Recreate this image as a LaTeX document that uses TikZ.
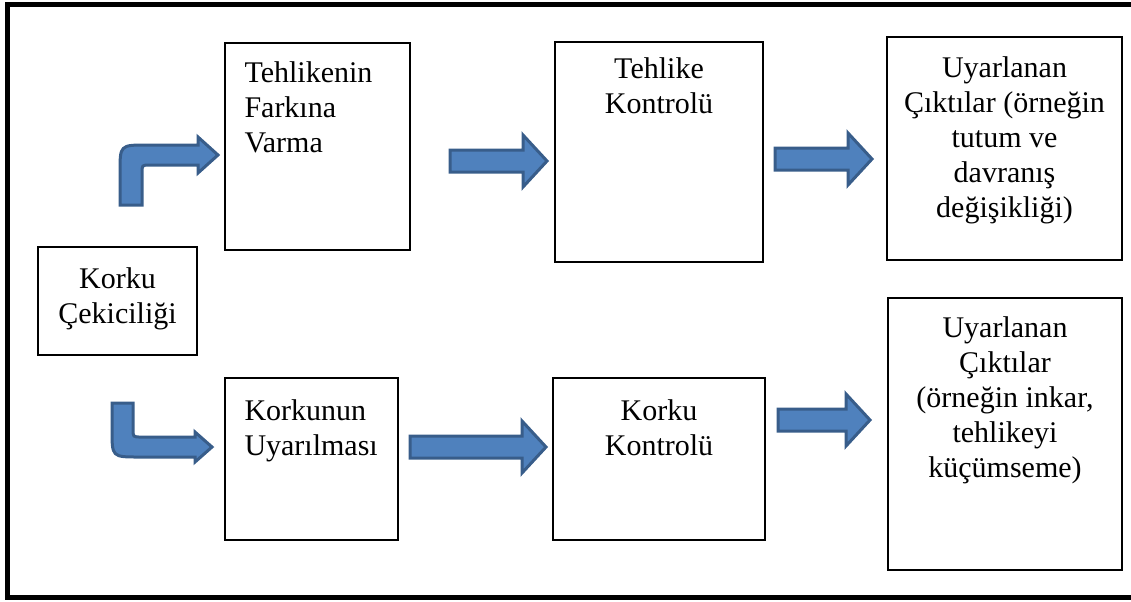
\documentclass[tikz,border=0pt]{standalone}
\usepackage{fontspec}
\setmainfont{Liberation Serif}
\usepackage{tikz}
\usetikzlibrary{positioning,fit}
\definecolor{arrowfill}{HTML}{4F81BD}
\definecolor{arrowedge}{HTML}{385D8A}
% straight block arrow: start x, tip x, middle y
\newcommand\flatarrow[3]{%
\draw[blockarrow](#1,#3-11)--(#2-24,#3-11)--(#2-24,#3-26)--(#2,#3)
--(#2-24,#3+26)--(#2-24,#3+11)--(#1,#3+11)--cycle;}

\begin{document}
\begin{tikzpicture}[x=0.4pt,y=-0.4pt,
box/.style={draw,line width=0.8pt,inner sep=0pt},
txt/.style={inner sep=0pt,font=\fontsize{12}{14}\selectfont},
blockarrow/.style={fill=arrowfill,draw=arrowedge,line width=1.2pt,line join=miter}]
\useasboundingbox(0,0)rectangle(1131,601);
\draw[line width=2.2pt](1135,4.5)--(7.5,4.5)--(7.5,597.5)--(1135,597.5);
% boxes
\node[box,fit={(38,247)(197,355)}](kc){};
\node[box,fit={(225,43)(410,250)}](tf){};
\node[box,fit={(225,378)(398,540)}](ku){};
\node[box,fit={(555,42)(763,262)}](tk){};
\node[box,fit={(553,378)(765,540)}](kk){};
\node[box,fit={(887,37)(1122,260)}](ua){};
\node[box,fit={(888,298)(1122,570)}](ub){};
% texts
\node[txt,align=center,below=8.5pt of kc.north](kct){Korku\\Çekiciliği};
\node[txt,align=left,anchor=north west,below right=7.5pt and 8pt of tf.north west](tft){Tehlikenin\\Farkına\\Varma};
\node[txt,align=left,anchor=north west,below right=9pt and 8pt of ku.north west](kut){Korkunun\\Uyarılması};
\node[txt,align=center,below=6.5pt of tk.north](tkt){Tehlike\\Kontrolü};
\node[txt,align=center,below=9pt of kk.north](kkt){Korku\\Kontrolü};
\node[txt,align=center,below=8pt of ua.north](uat){Uyarlanan\\Çıktılar (örneğin\\tutum ve\\davranış\\değişikliği)};
\node[txt,align=center,below=7.5pt of ub.north](ubt){Uyarlanan\\Çıktılar\\(örneğin inkar,\\tehlikeyi\\küçümseme)};
% arrows
\draw[blockarrow](120,205)--(120,172)..controls(120,145)..(147,145)--(198,145)--(198,137)
--(218,155)--(198,173)--(198,165)--(150,165)..controls(142,165)..(142,173)--(142,205)--cycle;
\draw[blockarrow](112,403)--(112,430)..controls(112,457)..(139,457)--(195,457)--(195,462)
--(212,447)--(195,432)--(195,437)--(141,437)..controls(133,437)..(133,429)--(133,403)--cycle;
\flatarrow{450}{547}{161}
\flatarrow{775}{872}{159}
\flatarrow{410}{546}{447}
\flatarrow{778}{870}{420}
\end{tikzpicture}
\end{document}
